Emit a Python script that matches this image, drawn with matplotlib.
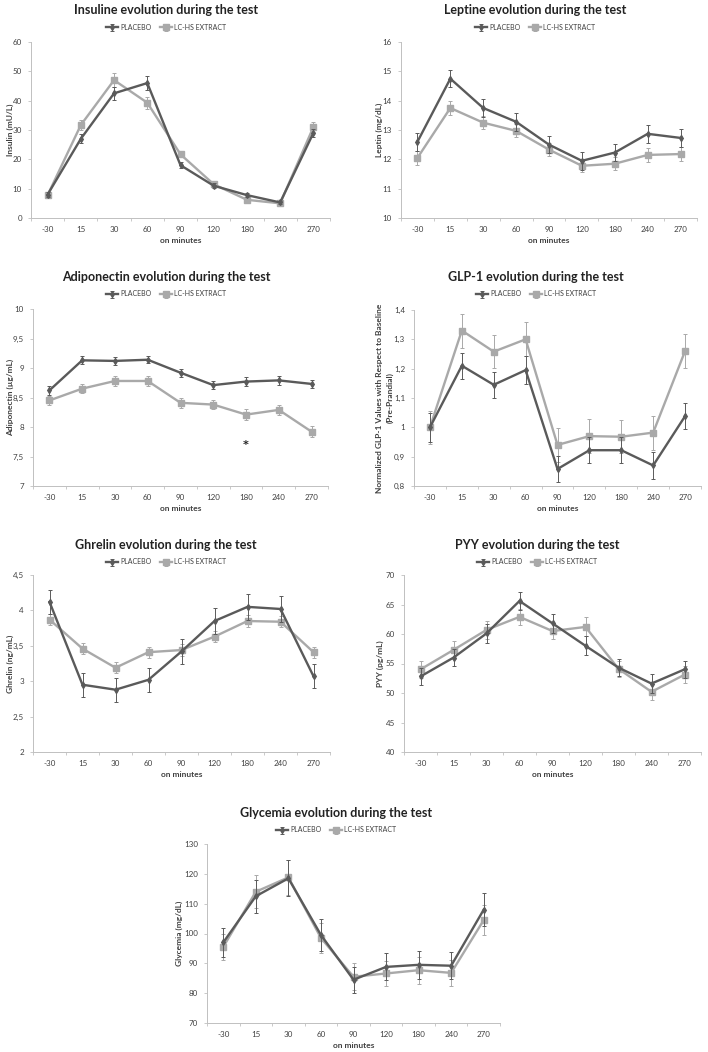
"""Seven-panel hormone/glycemia evolution chart (placebo vs LC-HS extract)."""

import matplotlib
matplotlib.use("Agg")
import matplotlib.pyplot as plt
from matplotlib.ticker import FuncFormatter, FixedLocator
import numpy as np

plt.rcParams["font.family"] = ["Lato", "DejaVu Sans"]

W, H = 708, 1052
MINUTES = ["-30", "15", "30", "60", "90", "120", "180", "240", "270"]
SERIES = ["PLACEBO", "LC-HS EXTRACT"]

# --- data ---
insulin_placebo = [8.0, 27.0, 42.5, 46.0, 18.0, 11.0, 7.8, 5.3, 29.0]
insulin_placebo_err = [0.8, 1.5, 2.2, 2.3, 1.0, 0.8, 0.6, 0.5, 1.5]
insulin_lchs = [7.8, 31.7, 47.0, 39.3, 21.7, 11.5, 6.2, 5.0, 31.0]
insulin_lchs_err = [0.7, 1.6, 2.5, 2.0, 1.0, 0.8, 0.6, 0.5, 1.8]

leptin_placebo = [12.6, 14.75, 13.75, 13.28, 12.5, 11.95, 12.23, 12.87, 12.73]
leptin_placebo_err = [0.3, 0.3, 0.3, 0.3, 0.3, 0.3, 0.3, 0.3, 0.3]
leptin_lchs = [12.05, 13.75, 13.25, 12.97, 12.33, 11.78, 11.85, 12.15, 12.18]
leptin_lchs_err = [0.23, 0.25, 0.23, 0.22, 0.22, 0.2, 0.22, 0.24, 0.23]

adipo_placebo = [8.62, 9.13, 9.12, 9.14, 8.92, 8.71, 8.77, 8.79, 8.73]
adipo_placebo_err = [0.07, 0.07, 0.07, 0.06, 0.07, 0.07, 0.07, 0.07, 0.07]
adipo_lchs = [8.45, 8.65, 8.78, 8.78, 8.41, 8.38, 8.21, 8.29, 7.92]
adipo_lchs_err = [0.08, 0.08, 0.08, 0.08, 0.08, 0.08, 0.09, 0.08, 0.09]

glp1_placebo = [1.0, 1.21, 1.145, 1.195, 0.858, 0.922, 0.922, 0.87, 1.038]
glp1_placebo_err = [0.05, 0.045, 0.045, 0.048, 0.045, 0.045, 0.045, 0.045, 0.045]
glp1_lchs = [1.0, 1.33, 1.258, 1.30, 0.94, 0.97, 0.968, 0.982, 1.26]
glp1_lchs_err = [0.057, 0.058, 0.057, 0.058, 0.057, 0.057, 0.057, 0.058, 0.057]

ghrelin_placebo = [4.12, 2.95, 2.88, 3.02, 3.42, 3.85, 4.05, 4.02, 3.07]
ghrelin_placebo_err = [0.17, 0.17, 0.17, 0.17, 0.17, 0.18, 0.18, 0.18, 0.17]
ghrelin_lchs = [3.87, 3.46, 3.19, 3.41, 3.44, 3.63, 3.85, 3.84, 3.41]
ghrelin_lchs_err = [0.08, 0.08, 0.08, 0.08, 0.08, 0.08, 0.08, 0.08, 0.08]

pyy_placebo = [52.8, 56.0, 60.1, 65.6, 61.8, 58.0, 54.3, 51.6, 54.0]
pyy_placebo_err = [1.5, 1.5, 1.6, 1.5, 1.6, 1.6, 1.5, 1.6, 1.5]
pyy_lchs = [54.0, 57.3, 60.7, 62.9, 60.5, 61.2, 54.1, 50.2, 53.1]
pyy_lchs_err = [1.4, 1.5, 1.5, 1.4, 1.4, 1.6, 1.4, 1.4, 1.4]

glyc_placebo = [97.0, 112.5, 118.5, 99.5, 84.5, 88.8, 89.5, 89.2, 108.0]
glyc_placebo_err = [5.0, 5.5, 6.0, 5.2, 4.3, 4.5, 4.8, 4.5, 5.6]
glyc_lchs = [95.5, 114.0, 118.8, 98.5, 85.5, 86.6, 87.7, 86.8, 104.5]
glyc_lchs_err = [4.5, 5.5, 6.0, 5.0, 4.5, 4.3, 4.5, 4.3, 5.0]

DARK = "#5a5a5a"
LIGHT = "#a9a9a9"
AXIS = "#c0c0c0"
TEXT = "#404040"


def rect(x0, x1, y0, y1):
    return [x0 / W, 1 - y1 / H, (x1 - x0) / W, (y1 - y0) / H]


def comma(v, _pos):
    return f"{v:g}".replace(".", ",")


def panel(fig, box, title, title_xy, ylabel, ylabel_x, ylim, ystep,
          placebo, placebo_err, lchs, lchs_err):
    ax = fig.add_axes(rect(*box))
    x = np.arange(len(MINUTES))
    ax.errorbar(x, placebo, yerr=placebo_err, color=DARK, lw=1.7,
                marker="d", ms=3, elinewidth=0.7, capsize=1.2, capthick=0.7,
                label=SERIES[0], zorder=3)
    ax.errorbar(x, lchs, yerr=lchs_err, color=LIGHT, lw=1.7,
                marker="s", ms=3.8, elinewidth=0.7, capsize=1.2, capthick=0.7,
                label=SERIES[1], zorder=2)
    ax.set_xlim(-0.5, len(MINUTES) - 0.5)
    ax.set_ylim(*ylim)
    ax.set_yticks(np.arange(ylim[0], ylim[1] + ystep / 2, ystep))
    ax.yaxis.set_major_formatter(FuncFormatter(comma))
    ax.set_xticks(x)
    ax.set_xticklabels(MINUTES)
    ax.xaxis.set_minor_locator(FixedLocator(np.arange(-0.5, len(MINUTES), 1.0)))
    ax.tick_params(axis="x", which="major", length=0, labelsize=5.8,
                   labelcolor=TEXT, pad=6)
    ax.tick_params(axis="x", which="minor", length=2.5, color=AXIS, width=0.6)
    ax.tick_params(axis="y", length=2.5, color=AXIS, width=0.6, labelsize=5.8,
                   labelcolor=TEXT, pad=4)
    for s in ("top", "right"):
        ax.spines[s].set_visible(False)
    for s in ("left", "bottom"):
        ax.spines[s].set_color(AXIS)
        ax.spines[s].set_linewidth(0.7)
    ax.set_xlabel("on minutes", fontsize=6, fontweight="bold", color=TEXT,
                  labelpad=2.5)

    tx, ty = title_xy
    fig.text(tx / W, 1 - ty / H, title, ha="center", va="center",
             fontsize=9, fontweight="bold", color="#222222")
    fig.legend(handles=ax.get_legend_handles_labels()[0],
               labels=SERIES, loc="center",
               bbox_to_anchor=(tx / W, 1 - (ty + 17) / H), ncol=2,
               frameon=False, fontsize=5, handlelength=1.8,
               handletextpad=0.3, columnspacing=1.2, labelcolor=TEXT)
    ycen = 1 - (box[2] + box[3]) / 2 / H
    fig.text(ylabel_x / W, ycen, ylabel, rotation=90, ha="center",
             va="center", fontsize=6, fontweight="bold", color=TEXT,
             linespacing=1.5)
    return ax


fig = plt.figure(figsize=(W / 100, H / 100), dpi=100)

panel(fig, (31, 330, 42, 218), "Insuline evolution during the test", (166, 10),
      "Insulin (mU/L)", 10, (0, 60), 10,
      insulin_placebo, insulin_placebo_err, insulin_lchs, insulin_lchs_err)
panel(fig, (401, 697, 42, 218), "Leptine evolution during the test", (535, 10),
      "Leptin (mg/dL)", 379, (10, 16), 1,
      leptin_placebo, leptin_placebo_err, leptin_lchs, leptin_lchs_err)
ax3 = panel(fig, (33, 328, 309, 486), "Adiponectin evolution during the test",
            (166, 277), "Adiponectin (µg/mL)", 10, (7, 10), 0.5,
            adipo_placebo, adipo_placebo_err, adipo_lchs, adipo_lchs_err)
# significance mark under the 180 min point
ax3.text(6, 7.7, "*", ha="center", va="center", fontsize=8, fontweight="bold",
         family="DejaVu Sans", color="#222222")
panel(fig, (414, 701, 310, 486), "GLP-1 evolution during the test", (536, 277),
      "Normalized GLP-1 Values with Respect to Baseline\n(Pre-Prandial)", 385,
      (0.8, 1.4), 0.1,
      glp1_placebo, glp1_placebo_err, glp1_lchs, glp1_lchs_err)
panel(fig, (33, 330, 575, 752), "Ghrelin evolution during the test", (166, 545),
      "Ghrelin (ng/mL)", 10, (2, 4.5), 0.5,
      ghrelin_placebo, ghrelin_placebo_err, ghrelin_lchs, ghrelin_lchs_err)
panel(fig, (404, 701, 575, 752), "PYY evolution during the test", (537, 545),
      "PYY (pg/mL)", 380, (40, 70), 5,
      pyy_placebo, pyy_placebo_err, pyy_lchs, pyy_lchs_err)
panel(fig, (207, 500, 844, 1023), "Glycemia evolution during the test", (336, 813),
      "Glycemia (mg/dL)", 179, (70, 130), 10,
      glyc_placebo, glyc_placebo_err, glyc_lchs, glyc_lchs_err)

fig.savefig("out.png", dpi=100)
